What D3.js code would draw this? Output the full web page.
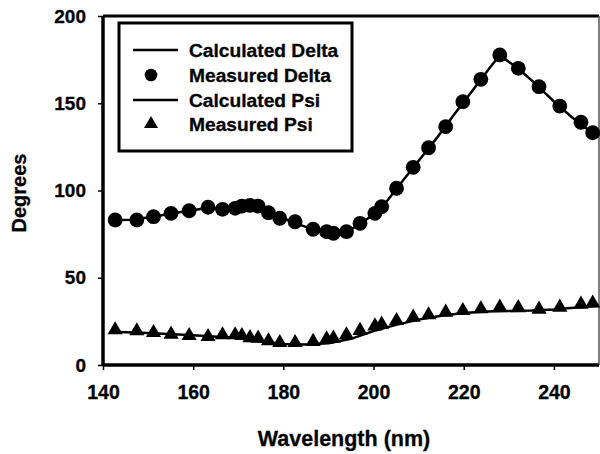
<!DOCTYPE html>
<html>
<head>
<meta charset="utf-8">
<script src="https://cdn.jsdelivr.net/npm/d3@7"></script>
<style>
  body { margin: 0; background: #fff; }
  svg { display: block; font-family: "Liberation Sans", Arial, sans-serif; font-weight: bold; }
  svg text { stroke: #000; stroke-width: 0.3; }
</style>
</head>
<body>
<svg width="600" height="454"></svg>
<script>
// measured wavelengths (nm), shared by both measured series
var wavelengths = [142.7, 147.5, 151.2, 155.1, 159.1, 163.3, 166.5, 169.3, 170.8, 172.6, 174.4, 176.7, 179.2,
  182.6, 186.6, 189.6, 191.1, 194.0, 197.0, 200.3, 201.8, 205.1, 208.8, 212.2, 216.0, 219.8, 223.8, 228.0,
  232.1, 236.7, 241.3, 246.0, 248.6];
var measuredDelta = [83.1, 83.1, 85.0, 86.9, 88.4, 90.4, 89.2, 89.8, 91.1, 91.5, 91.1, 87.3, 84.1,
  82.1, 77.8, 76.4, 75.5, 76.4, 81.2, 86.9, 90.7, 101.3, 113.3, 124.5, 136.6, 150.9, 163.7, 177.7,
  170.0, 159.5, 148.4, 139.1, 133.1];
var measuredPsi = [20.1, 19.5, 18.5, 17.6, 16.8, 16.2, 17.2, 17.2, 16.8, 15.6, 15.3, 13.8, 12.8,
  12.8, 13.4, 14.9, 15.3, 17.2, 19.7, 22.3, 23.3, 25.4, 27.3, 28.7, 30.2, 31.1, 32.1, 33.1,
  32.8, 31.9, 33.1, 34.8, 35.4];

// model curves
var calcDeltaX = [142, 146, 150, 154, 158, 162, 166, 170, 174, 177, 180, 184, 188, 191, 194, 197, 200, 203,
  206, 210, 214, 218, 222, 226, 228, 232, 236, 240, 244, 248, 250];
var calcDelta = [83, 83.3, 84.5, 86.3, 88, 89.5, 90, 90.8, 90.5, 87.5, 84, 80, 76.5, 75.7, 76.6, 80.5, 86.5, 94,
  104, 117, 130, 144, 157.5, 171, 177.5, 170, 161, 151, 142, 134, 131];
var calcPsiX = [142, 150, 160, 170, 175, 180, 185, 190, 195, 200, 205, 210, 215, 220, 225, 230, 235, 240, 245, 250];
var calcPsi = [19, 18.3, 17, 15.5, 13.5, 12, 11.8, 12.5, 15, 19.5, 23, 26, 28.2, 29.8, 30.6, 31, 31.2, 31.8, 33, 34];

var xTicks = [140, 160, 180, 200, 220, 240];
var yTicks = [0, 50, 100, 150, 200];
var legendLabels = ["Calculated Delta", "Measured Delta", "Calculated Psi", "Measured Psi"];

var svg = d3.select("svg");
var pLeft = 103, pRight = 599, pTop = 16, pBottom = 365;

var x = d3.scaleLinear().domain([140, 250]).range([pLeft, pRight]);
var y = d3.scaleLinear().domain([0, 200]).range([pBottom, pTop]);

// axes
var gx = svg.append("g")
  .attr("transform", "translate(0," + pBottom + ")")
  .call(d3.axisBottom(x).tickValues(xTicks).tickSize(5).tickPadding(15));
var gy = svg.append("g")
  .attr("transform", "translate(" + pLeft + ",0)")
  .call(d3.axisLeft(y).tickValues(yTicks).tickSize(5).tickPadding(12));
gx.selectAll("text").attr("font-size", 19.5);
gy.selectAll("text").attr("font-size", 19);
[gx, gy].forEach(function(g) {
  g.select(".domain").remove();
  g.selectAll("text").attr("font-family", null).attr("fill", "#000");
  g.selectAll("line").attr("stroke", "#000").attr("stroke-width", 1.5);
});

// frame
svg.append("line").attr("x1", pLeft).attr("x2", pRight).attr("y1", pTop).attr("y2", pTop)
  .attr("stroke", "#000").attr("stroke-width", 3);
svg.append("line").attr("x1", pRight).attr("x2", pRight).attr("y1", pTop).attr("y2", pBottom)
  .attr("stroke", "#555").attr("stroke-width", 1.5);
svg.append("line").attr("x1", pLeft).attr("x2", pRight).attr("y1", pBottom).attr("y2", pBottom)
  .attr("stroke", "#000").attr("stroke-width", 3.5);
svg.append("line").attr("x1", pLeft).attr("x2", pLeft).attr("y1", pTop).attr("y2", pBottom)
  .attr("stroke", "#000").attr("stroke-width", 3.5);

// calculated lines
var line = d3.line().x(function(d) { return x(d[0]); }).y(function(d) { return y(d[1]); });
svg.append("path")
  .datum(d3.zip(calcDeltaX, calcDelta))
  .attr("d", line).attr("fill", "none").attr("stroke", "#000").attr("stroke-width", 2.5);
svg.append("path")
  .datum(d3.zip(calcPsiX, calcPsi))
  .attr("d", line).attr("fill", "none").attr("stroke", "#000").attr("stroke-width", 2.5);

// measured markers
svg.append("g").selectAll("circle")
  .data(d3.zip(wavelengths, measuredDelta))
  .join("circle")
  .attr("cx", function(d) { return x(d[0]); })
  .attr("cy", function(d) { return y(d[1]); })
  .attr("r", 7.4)
  .attr("fill", "#000");

var tri = d3.symbol().type(d3.symbolTriangle).size(100);
svg.append("g").selectAll("path")
  .data(d3.zip(wavelengths, measuredPsi))
  .join("path")
  .attr("d", tri)
  .attr("transform", function(d) { return "translate(" + x(d[0]) + "," + y(d[1]) + ")"; })
  .attr("fill", "#000");

// legend
var lg = svg.append("g");
lg.append("rect")
  .attr("x", 119).attr("y", 23).attr("width", 233).attr("height", 128)
  .attr("fill", "#fff").attr("stroke", "#000").attr("stroke-width", 3);
var rowY = [50, 75, 100, 124];
legendLabels.forEach(function(label, i) {
  var cy = rowY[i];
  if (i == 0 || i == 2) {
    lg.append("line").attr("x1", 133).attr("x2", 178).attr("y1", cy).attr("y2", cy)
      .attr("stroke", "#000").attr("stroke-width", 2.5);
  } else if (i == 1) {
    lg.append("circle").attr("cx", 151).attr("cy", cy).attr("r", 6.3).attr("fill", "#000");
  } else {
    lg.append("path").attr("d", d3.symbol().type(d3.symbolTriangle).size(85))
      .attr("transform", "translate(151," + cy + ")").attr("fill", "#000");
  }
  lg.append("text")
    .attr("x", 189).attr("y", cy + 7)
    .attr("font-size", 19.2)
    .text(label);
});

// axis titles
svg.append("text")
  .attr("x", 344).attr("y", 446)
  .attr("text-anchor", "middle")
  .attr("font-size", 21.5)
  .text("Wavelength (nm)");
svg.append("text")
  .attr("transform", "translate(26,193) rotate(-90)")
  .attr("text-anchor", "middle")
  .attr("font-size", 20)
  .text("Degrees");
</script>
</body>
</html>
